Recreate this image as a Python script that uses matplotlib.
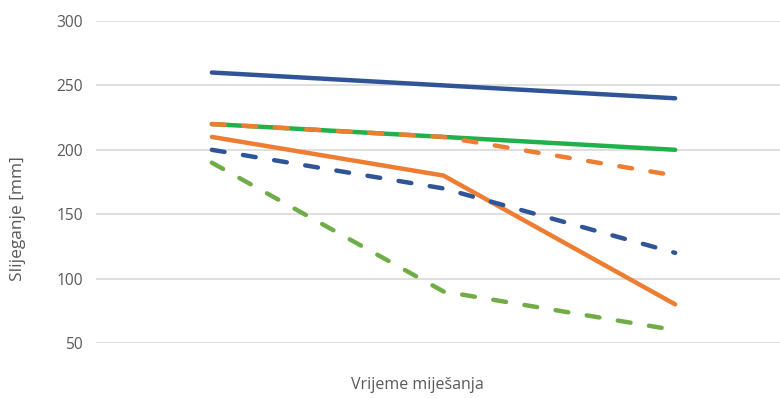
import matplotlib
matplotlib.use("Agg")
import matplotlib.pyplot as plt

# Mixing time categories (unlabelled on the axis) and settlement values [mm]
categories = [0, 1, 2]
blue_solid = [260, 250, 240]
orange_solid = [210, 180, 80]
green_solid = [220, 210, 200]
blue_dashed = [200, 170, 120]
orange_dashed = [220, 210, 180]
green_dashed = [190, 90, 60]

y_ticks = [50, 100, 150, 200, 250, 300]

BLUE = "#2F5597"
ORANGE = "#ED7D31"
GREEN = "#21B04B"
LIGHT_GREEN = "#70AD47"
TEXT = "#595959"

plt.rcParams["font.family"] = ["Open Sans", "DejaVu Sans"]

fig = plt.figure(figsize=(7.8, 3.98), dpi=100)
ax = fig.add_axes([96 / 780, 1 - 343 / 398, 695 / 780, 322 / 398])

lw = 3.2
dash = (2.9, 4.2)
series = [
    (blue_solid, BLUE, "-"),
    (orange_solid, ORANGE, "-"),
    (green_solid, GREEN, "-"),
    (blue_dashed, BLUE, "--"),
    (orange_dashed, ORANGE, "--"),
    (green_dashed, LIGHT_GREEN, "--"),
]
for values, color, style in series:
    line, = ax.plot(categories, values, color=color, lw=lw,
                    solid_capstyle="round", dash_capstyle="round",
                    solid_joinstyle="round")
    if style == "--":
        line.set_dashes(dash)

ax.set_xlim(-0.5, 2.5)
ax.set_ylim(50, 300)
ax.set_yticks(y_ticks)
ax.set_xticks([])
ax.yaxis.grid(True, color="#D9D9D9", lw=1.2)
ax.set_axisbelow(True)
for s in ax.spines.values():
    s.set_visible(False)
ax.tick_params(axis="y", length=0, pad=9.5, labelsize=11.2, labelcolor=TEXT)

fig.text(18 / 780, 1 - 219 / 398, "Slijeganje [mm]", rotation=90,
         ha="center", va="center", fontsize=12.5, color=TEXT)
fig.text(417 / 780, 1 - 385 / 398, "Vrijeme miješanja",
         ha="center", va="center", fontsize=11.5, color=TEXT)

fig.savefig("out.png", dpi=100)
